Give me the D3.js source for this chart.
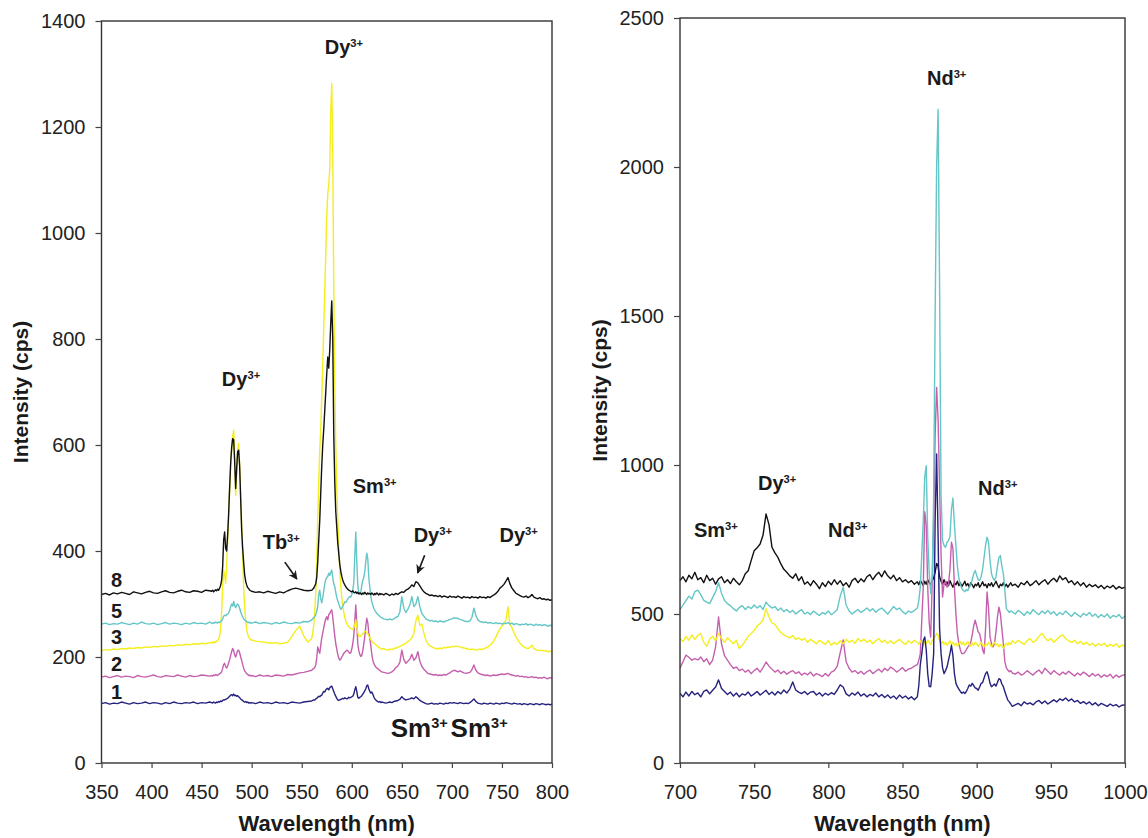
<!DOCTYPE html>
<html>
<head>
<meta charset="utf-8">
<script src="https://cdn.jsdelivr.net/npm/d3@7"></script>
<style>
  body { margin: 0; background: #fff; }
  svg text { font-family: "Liberation Sans", Arial, Helvetica, sans-serif; }
</style>
</head>
<body>
<script>
// ---------- Wavelength sampling (nm) ----------
// Visible range: coarse on flat stretches, 1 nm through the emission bands.
const visWavelengths = [].concat(
  d3.range(350, 459, 4),   // 350-458
  d3.range(460, 500, 1),   // 460-499
  d3.range(500, 557, 4),   // 500-556
  d3.range(560, 630, 1),   // 560-629
  d3.range(630, 801, 2)    // 630-800
);
// Near-infrared range
const nirWavelengths = [].concat(
  d3.range(700, 859, 2),   // 700-858
  d3.range(860, 925, 1),   // 860-924
  d3.range(926, 1001, 2)   // 926-1000
);

// ---------- Visible spectra, intensity (cps) ----------
const vis8 = [
  318,320,317,321,319,322,320,318,323,321, 319,322,324,321,320,323,325,322,321,324, 326,323,322,325,324,322,326,325,
  324,326,323,325,327,325,328,326,330,335, 345,370,420,436,405,400,430,470,520,565,
  595,612,610,570,518,555,588,590,560,500, 440,405,378,355,343,336,331,329,326,325,
  324,322,323,321,324,322,320,323,321,325,328,330,328,326,325,
  326,328,330,334,338,350,380,420,458,510, 560,600,630,665,700,735,766,745,780,830,
  872,800,620,530,475,445,415,395,375,362, 352,345,340,336,333,330,328,326,325,324,
  323,325,322,321,323,320,322,319,321,320, 318,321,319,322,320,318,321,319,320,318,
  321,319,317,320,318,321,319,317,320,318,
  319,317,320,318,316,319,317,320,318,321, 323,322,326,328,331,336,333,342,340,334,
  328,323,320,318,316,317,315,316,314,316, 313,315,314,312,315,313,314,312,315,313,
  311,314,312,313,311,314,312,313,311,314, 312,313,311,314,312,315,317,320,324,330,
  333,337,343,350,338,330,325,320,318,316, 314,313,315,312,314,318,313,311,310,312,
  309,310,308,309,307,308
];
const vis5 = [
  262,264,261,263,262,265,263,261,264,262, 266,263,262,264,261,263,265,262,264,263, 261,264,262,265,263,264,262,266,
  264,263,265,264,266,265,264,266,265,267, 268,272,277,279,278,280,281,283,288,295,
  300,296,305,297,293,298,300,297,292,285, 280,276,272,270,268,267,265,266,264,265,
  264,266,263,265,264,262,265,263,266,264,263,265,264,267,266,
  270,272,274,276,280,286,296,318,326,310, 302,312,325,338,346,350,352,358,354,360,
  364,350,338,333,322,312,306,300,295,290, 292,296,300,304,303,306,310,312,314,313,
  318,326,340,390,436,380,335,322,318,322, 335,345,350,362,380,396,385,350,332,315,
  304,298,292,288,285,282,281,278,277,275,
  274,272,271,270,272,270,272,275,276,285, 314,292,284,290,298,314,295,300,314,295,
  282,277,272,270,268,269,267,268,266,268, 267,266,268,269,271,272,274,273,273,271,
  270,268,267,267,268,275,292,278,270,267, 266,265,266,264,265,264,263,265,263,264,
  262,264,263,265,262,264,261,263,262,260, 262,261,263,260,262,261,259,262,260,261,
  259,261,260,258,260,259
];
const vis3 = [
  212,214,213,215,214,216,215,217,216,218, 217,219,218,220,219,221,220,222,221,223, 222,224,223,225,224,226,225,227,
  227,228,226,229,228,230,231,234,240,255, 285,330,364,355,339,370,420,465,520,560,
  590,615,628,580,505,545,590,603,560,500, 450,390,330,295,270,252,243,238,235,233,
  232,230,229,228,227,226,227,225,226,228,238,250,258,240,228,
  235,245,260,285,320,380,460,530,590,630, 690,750,820,890,960,1030,1075,1090,1120,1230,
  1282,1150,900,720,600,520,460,405,364,335, 312,295,284,275,268,263,260,257,255,254,
  253,252,255,262,270,258,246,240,238,240, 242,244,246,248,248,246,244,240,237,233,
  230,228,226,225,223,221,220,218,217,216,
  215,216,214,213,215,214,216,217,218,220, 222,224,226,229,232,236,245,268,279,260,
  262,245,232,225,221,219,217,216,215,217, 216,218,217,219,218,220,219,221,220,219,
  218,217,216,215,214,215,214,213,214,215, 214,216,217,219,222,226,231,238,246,253,
  258,262,270,295,262,255,246,238,232,226, 222,219,217,216,218,222,216,214,213,212,
  213,211,212,210,211,210
];
const vis2 = [
  162,164,161,163,165,162,164,163,161,165, 163,162,164,166,163,162,165,164,163,166, 164,162,165,163,164,166,165,164,
  165,164,166,165,167,166,165,167,168,170, 172,178,186,188,182,179,183,189,195,203,
  210,216,212,204,200,206,212,213,208,200, 194,186,179,174,171,169,167,165,166,164,
  165,163,166,164,165,163,166,165,164,167,166,168,170,171,173,
  175,177,178,180,185,198,219,212,207,222, 236,245,255,265,272,276,270,280,282,286,
  289,275,257,240,225,215,205,198,194,196, 200,203,207,209,211,213,212,209,207,208,
  215,225,240,268,298,262,225,212,205,201, 203,212,225,238,258,273,265,245,236,222,
  205,194,188,184,181,179,178,176,175,173,
  172,171,170,169,170,172,175,180,183,190, 213,195,188,192,196,205,194,198,210,192,
  182,177,173,169,168,167,166,167,165,166, 165,167,166,168,170,173,175,174,172,174,
  172,170,169,170,171,176,185,175,170,168, 167,166,165,166,164,165,166,165,166,167,
  168,167,168,169,167,166,165,164,165,163, 164,162,163,161,162,163,161,162,160,161,
  160,162,160,159,161,160
];
const vis1 = [
  112,114,111,113,112,115,113,111,114,112, 113,115,112,114,113,111,114,112,115,113, 112,114,113,115,112,114,113,115,
  114,113,115,114,113,115,114,116,115,117, 116,118,119,119,120,121,122,124,126,128,
  129,127,130,127,128,126,127,125,123,121, 119,118,116,115,116,114,115,113,114,113,
  114,112,115,113,114,112,115,113,114,112,115,114,113,115,116,
  117,118,119,119,121,122,124,126,125,127, 128,132,135,134,138,140,141,138,142,144,
  145,140,135,130,126,122,119,118,119,120, 121,122,121,123,122,121,122,124,123,124,
  125,126,130,138,144,135,124,122,124,125, 127,130,133,136,140,146,147,140,135,132,
  134,130,125,121,119,117,116,115,116,114,
  115,114,113,114,115,114,116,117,118,120, 125,121,119,120,121,123,121,125,122,118,
  116,114,112,111,112,113,111,112,111,113, 112,111,113,112,114,113,114,113,112,114,
  113,112,113,112,114,117,121,116,113,112, 111,113,112,111,113,112,111,113,112,111,
  113,112,114,113,112,111,113,112,111,112, 110,112,111,110,112,111,110,112,111,110,
  112,111,110,111,110,111
];

// ---------- Near-infrared spectra, intensity (cps) ----------
const nir8 = [
  612,625,608,630,618,640,615,622,605,630, 612,620,600,618,625,605,615,602,620,608,
  598,612,635,645,680,712,722,735,765,836, 800,724,705,690,668,650,640,628,620,635,
  612,625,600,608,595,612,600,585,605,592, 610,598,615,600,612,595,605,590,612,620,
  605,618,608,625,632,615,630,640,625,645, 628,618,630,612,622,608,615,605,612,600,
  608,598,612,605,595,610,600,615,605,598, 612,620,640,670,660,625,610,600,615,598,
  608,595,612,600,590,605,598,610,595,605, 592,600,610,595,602,590,605,598,588,600,
  595,605,590,598,608,595,600,588,602,595, 605,592,600,610,598,588,600,595,605,592,
  600,590,598,605,595,
  600,590,605,598,610,595,602,612,598,608, 615,600,612,620,608,628,615,622,605,612,
  598,608,595,605,590,600,592,598,588,596, 585,594,588,596,584,592,586,590
];
const nir5 = [
  515,530,545,560,550,575,580,565,546,540, 535,555,575,605,570,545,535,528,518,510,
  522,528,515,525,518,530,520,528,515,540, 528,520,525,512,520,508,515,505,512,500,
  508,515,500,506,498,510,502,495,505,500, 510,498,505,515,560,590,530,510,500,508,
  515,505,512,520,510,518,506,515,520,510, 500,512,525,515,520,508,500,510,505,512,
  520,545,590,700,813,960,998,760,640,568, 620,900,1500,2000,2193,1600,900,747,730,724,
  740,747,760,850,889,800,730,660,620,600, 585,579,575,582,578,590,600,615,635,646,
  630,615,613,625,650,690,730,758,740,680, 635,620,613,625,660,690,696,660,635,580,
  518,512,505,510,507,
  500,512,505,495,508,500,515,505,498,510, 502,512,500,508,495,505,498,510,500,492,
  505,498,490,502,495,505,492,500,488,498, 490,500,486,495,490,498,485,492
];
const nir3 = [
  418,408,425,412,430,415,428,435,405,392, 415,425,410,435,418,405,420,410,400,412,
  384,395,410,425,435,445,460,468,480,518, 490,470,465,450,438,430,425,420,428,415,
  420,412,418,405,415,408,400,412,405,398, 410,395,405,398,410,400,415,405,412,402,
  418,408,415,405,412,400,410,418,405,412, 402,410,400,408,415,405,398,410,402,412,
  405,398,410,402,395,408,400,412,405,398, 410,415,425,435,428,412,400,408,398,405,
  395,402,410,398,405,395,402,392,400,408, 398,405,395,400,408,398,392,402,395,405,
  400,392,398,405,395,390,400,395,405,398, 390,398,405,395,400,390,398,392,385,395,
  402,395,405,398,410,
  402,412,405,398,410,418,405,412,425,435, 420,410,418,405,415,424,430,418,410,405,
  412,400,408,398,405,395,402,392,400,395, 402,390,398,392,400,388,396,392
];
const nir2 = [
  318,340,362,355,345,350,346,356,340,350, 330,345,390,490,400,360,345,330,318,322,
  310,315,305,312,300,310,318,305,320,339, 325,315,305,312,300,308,298,305,310,300,
  306,295,302,296,305,292,300,296,290,300, 292,305,310,325,370,413,340,318,305,310,
  300,308,298,306,312,300,308,315,305,318, 310,322,315,305,312,320,308,315,318,325,
  330,345,367,480,590,843,800,590,470,423, 600,813,1100,1260,1150,925,700,557,600,610,
  590,600,650,741,720,590,500,434,400,380, 367,367,372,380,389,395,405,430,460,479,
  460,440,434,410,380,367,450,574,520,423, 400,389,400,440,490,523,500,450,400,340,
  320,312,306,310,302,
  298,305,295,300,310,302,295,305,312,300, 318,308,298,310,302,295,305,298,308,300,
  292,302,295,305,298,290,300,292,298,288, 296,290,298,285,295,288,294,296
];
const nir1 = [
  234,222,238,225,240,229,235,222,240,245, 232,244,255,279,250,240,230,238,225,235,
  222,232,228,238,225,232,240,228,236,244, 230,238,228,240,232,245,235,248,272,245,
  238,233,240,230,238,240,228,236,225,234, 228,236,230,245,262,255,232,225,235,228,
  238,225,232,222,230,225,235,222,230,220, 228,218,225,215,228,218,225,215,222,212,
  222,260,330,368,410,423,380,300,257,256, 300,367,813,1037,760,450,367,320,300,310,
  322,345,367,395,360,300,268,256,248,240, 234,238,233,240,250,262,258,267,260,252,
  250,244,255,267,270,285,300,306,290,268, 256,260,265,258,270,283,280,265,256,240,
  225,211,205,198,190,
  195,200,192,205,198,202,195,205,210,200, 208,198,205,212,205,215,210,218,208,215,
  205,210,200,206,198,205,195,202,192,200, 195,190,198,192,196,188,194,195
];

// ---------- Axis ticks ----------
const visTicksX = [350, 400, 450, 500, 550, 600, 650, 700, 750, 800];
const visTicksY = [0, 200, 400, 600, 800, 1000, 1200, 1400];
const nirTicksX = [700, 750, 800, 850, 900, 950, 1000];
const nirTicksY = [0, 500, 1000, 1500, 2000, 2500];

// Sample numbers written beside the visible traces (anchor in nm / cps)
const sampleNames = ["8", "5", "3", "2", "1"];
const sampleNameAt = [[359.5, 332], [359.5, 274], [359.5, 225], [359.5, 174], [359.5, 121]];

// Ion assignments: [element, wavelength, intensity] of the text anchor
const visIons = [
  ["Dy", 573, 1338], ["Dy", 470.2, 711], ["Sm", 601, 510],
  ["Tb", 511, 404], ["Dy", 661.8, 417], ["Dy", 747.6, 417]
];
const visBigIons = [["Sm", 638.9, 49], ["Sm", 698.7, 49]];
const visArrows = [[533.1, 379, 545.1, 347], [672.8, 392, 665.8, 358.5]];
const nirIons = [
  ["Nd", 866.5, 2275], ["Sm", 709.4, 758], ["Dy", 752.6, 916],
  ["Nd", 799.8, 758], ["Nd", 900.9, 899]
];

// ---------- Styling ----------
const COLORS = { s8: "#111111", s5: "#64c6c6", s3: "#f4ee1c", s2: "#c460ad", s1: "#25227e" };
const FONT = '"Liberation Sans", Arial, Helvetica, sans-serif';
const INK = "#1a1a1a";

const svg = d3.select("body").append("svg")
  .attr("width", 1148).attr("height", 838);

const defs = svg.append("defs");
defs.append("marker")
  .attr("id", "arrowhead")
  .attr("viewBox", "0 0 10 10")
  .attr("refX", 9).attr("refY", 5)
  .attr("markerUnits", "userSpaceOnUse")
  .attr("markerWidth", 9).attr("markerHeight", 9)
  .attr("orient", "auto")
  .append("path").attr("d", "M0,0L10,5L0,10L3,5z").attr("fill", INK);

function ionLabel(g, text, px, py, size) {
  const t = g.append("text")
    .attr("x", px).attr("y", py)
    .attr("font-weight", "bold").attr("font-size", size)
    .attr("fill", INK);
  t.append("tspan").text(text);
  t.append("tspan")
    .attr("dy", -size * 0.36)
    .attr("font-size", size * 0.56)
    .text("3+");
}

function drawPanel(opt) {
  const x = d3.scaleLinear().domain(opt.xDomain).range([opt.left, opt.right]);
  const y = d3.scaleLinear().domain(opt.yDomain).range([opt.bottom, opt.top]);
  const g = svg.append("g");

  // traces
  const line = d3.line().x(d => x(d[0])).y(d => y(d[1]));
  opt.series.forEach(s => {
    const pts = opt.wavelengths.map((w, i) => [w, s.values[i]]);
    g.append("path")
      .datum(pts)
      .attr("d", line)
      .attr("fill", "none")
      .attr("stroke", s.color)
      .attr("stroke-width", 1.4)
      .attr("stroke-linejoin", "round");
  });

  // frame
  g.append("rect")
    .attr("x", opt.left).attr("y", opt.top)
    .attr("width", opt.right - opt.left).attr("height", opt.bottom - opt.top)
    .attr("fill", "none").attr("stroke", "#333").attr("stroke-width", 1.4);

  // axes
  const yAxis = d3.axisLeft(y).tickValues(opt.yTicks).tickSize(6).tickPadding(10)
    .tickFormat(d3.format("d"));
  const xAxis = d3.axisBottom(x).tickValues(opt.xTicks).tickSize(5).tickPadding(17)
    .tickFormat(d3.format("d"));

  const gy = g.append("g").attr("transform", `translate(${opt.left},0)`).call(yAxis);
  const gx = g.append("g").attr("transform", `translate(0,${opt.bottom})`).call(xAxis);
  [gx, gy].forEach(a => {
    a.select(".domain").remove();
    a.attr("font-family", FONT).attr("font-size", 20);
    a.selectAll(".tick line").attr("stroke", "#444").attr("stroke-width", 1.2);
    a.selectAll(".tick text").attr("fill", "#222");
  });

  // axis titles
  g.append("text")
    .attr("transform", `translate(${opt.yTitleX},${(opt.top + opt.bottom) / 2}) rotate(-90)`)
    .attr("text-anchor", "middle")
    .attr("font-weight", "bold").attr("font-size", 21).attr("fill", INK)
    .text("Intensity (cps)");
  g.append("text")
    .attr("x", (opt.left + opt.right) / 2).attr("y", 831)
    .attr("text-anchor", "middle")
    .attr("font-weight", "bold").attr("font-size", 22).attr("fill", INK)
    .text("Wavelength (nm)");

  return { g, x, y };
}

// ---------- Visible panel ----------
const vis = drawPanel({
  left: 101.5, right: 552, top: 21, bottom: 763, yTitleX: 28,
  xDomain: [350, 800], yDomain: [0, 1400],
  xTicks: visTicksX, yTicks: visTicksY,
  wavelengths: visWavelengths,
  series: [
    { values: vis1, color: COLORS.s1 },
    { values: vis2, color: COLORS.s2 },
    { values: vis3, color: COLORS.s3 },
    { values: vis5, color: COLORS.s5 },
    { values: vis8, color: COLORS.s8 }
  ]
});

sampleNames.forEach((n, i) => {
  vis.g.append("text")
    .attr("x", vis.x(sampleNameAt[i][0])).attr("y", vis.y(sampleNameAt[i][1]))
    .attr("font-weight", "bold").attr("font-size", 20).attr("fill", INK)
    .text(n);
});
visIons.forEach(d => ionLabel(vis.g, d[0], vis.x(d[1]), vis.y(d[2]), 20));
visBigIons.forEach(d => ionLabel(vis.g, d[0], vis.x(d[1]), vis.y(d[2]), 26));
visArrows.forEach(a => {
  vis.g.append("line")
    .attr("x1", vis.x(a[0])).attr("y1", vis.y(a[1]))
    .attr("x2", vis.x(a[2])).attr("y2", vis.y(a[3]))
    .attr("stroke", INK).attr("stroke-width", 1.7)
    .attr("marker-end", "url(#arrowhead)");
});

// ---------- Near-infrared panel ----------
const nir = drawPanel({
  left: 680, right: 1125, top: 18, bottom: 763, yTitleX: 607,
  xDomain: [700, 1000], yDomain: [0, 2500],
  xTicks: nirTicksX, yTicks: nirTicksY,
  wavelengths: nirWavelengths,
  series: [
    { values: nir8, color: COLORS.s8 },
    { values: nir2, color: COLORS.s2 },
    { values: nir5, color: COLORS.s5 },
    { values: nir3, color: COLORS.s3 },
    { values: nir1, color: COLORS.s1 }
  ]
});
nirIons.forEach(d => ionLabel(nir.g, d[0], nir.x(d[1]), nir.y(d[2]), 20));
</script>
</body>
</html>
